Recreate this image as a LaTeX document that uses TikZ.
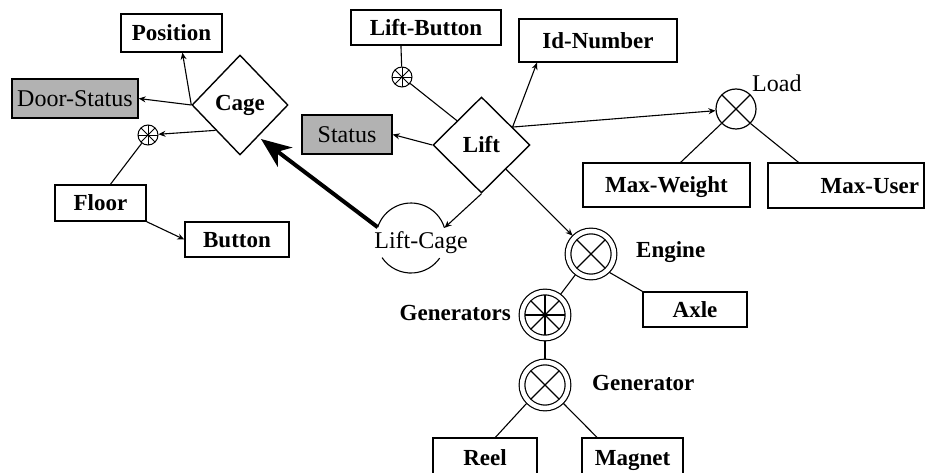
\documentclass[tikz,border=0pt]{standalone}
\usepackage{fontspec}
\setmainfont{Liberation Serif}
\usetikzlibrary{shapes.geometric,arrows.meta}
\begin{document}
\begin{tikzpicture}[x=1pt,y=-1pt,
  every node/.style={inner sep=0pt},
  bfont/.style={font=\fontsize{23}{27}\selectfont\bfseries},
  rfont/.style={font=\fontsize{24}{28}\selectfont},
  box/.style={draw, rectangle, line width=1.4pt, bfont, text height=17pt, text depth=1pt},
  shaded/.style={draw, rectangle, line width=1.4pt, fill=black!30, rfont, text height=17pt, text depth=1pt},
  rel/.style={draw, diamond, line width=1.4pt, bfont, fill=white},
  link/.style={line width=1.1pt},
  arr/.style={link, -{Stealth[length=7pt,width=6pt]}},
  big/.style={line width=4pt, -{Stealth[length=30pt,width=24pt,inset=9pt]}},
  spokes/.style={circle, draw, line width=1pt, minimum size=20pt,
    path picture={\foreach \a in {0,45,90,135}
      \draw[line width=0.9pt] (path picture bounding box.center) ++(\a:15pt) -- ++(\a+180:30pt);}},
  xcirc/.style={circle, draw, line width=1.2pt, minimum size=40pt,
    path picture={\foreach \a in {45,135}
      \draw[line width=1.1pt] (path picture bounding box.center) ++(\a:30pt) -- ++(\a+180:60pt);}},
  ring/.style={circle, draw, double, double distance=4.5pt, line width=1.2pt,
    minimum size=46pt, outer sep=3pt},
  ringx/.style={ring, path picture={\foreach \a in {45,135}
      \draw[line width=1.1pt] (path picture bounding box.center) ++(\a:30pt) -- ++(\a+180:60pt);}},
  ringstar/.style={ring, path picture={\foreach \a in {0,45,90,135}
      \draw[line width=1.1pt] (path picture bounding box.center) ++(\a:30pt) -- ++(\a+180:60pt);}},
]
\useasboundingbox (0,0) rectangle (929,473);

% ---- Cage cluster ----
\node[box, minimum width=101pt, minimum height=38pt] (Position) at (171.5,33) {Position};
\node[shaded, minimum width=126pt, minimum height=39pt] (DoorStatus) at (75,98.5) {Door-Status};
\node[rel, minimum width=96pt, minimum height=100pt] (Cage) at (240,105) {Cage};
\node[spokes] (ast1) at (148,135) {};
\node[box, minimum width=91pt, minimum height=36pt] (Floor) at (100.5,203) {Floor};
\node[box, minimum width=104pt, minimum height=35pt] (Button) at (237,239.5) {Button};

% ---- Lift cluster ----
\node[box, minimum width=150pt, minimum height=35pt] (LiftButton) at (426,27.5) {Lift-Button};
\node[box, minimum width=158pt, minimum height=43pt] (IdNumber) at (598,40.5) {Id-Number};
\node[shaded, minimum width=90pt, minimum height=39pt] (Status) at (347,134.5) {Status};
\node[rel, minimum width=97pt, minimum height=96pt] (Lift) at (481.5,145) {Lift};
\node[spokes] (ast2) at (402,77) {};

% ---- Load ----
\node[xcirc] (Load) at (736,109) {};
\node[rfont, anchor=west] (LoadLbl) at (752,83) {Load};
\node[box, minimum width=167pt, minimum height=44pt] (MaxWeight) at (666.5,185) {Max-Weight};
\node[box, minimum width=156pt, minimum height=45pt, inner xsep=5pt,
      text width=146pt, align=right] (MaxUser) at (846,185.5) {Max-User};

% ---- Lift-Cage relationship ----
\node[rfont] (LiftCage) at (421,243) {Lift-Cage};
\coordinate (LCa) at (377.7,227.2);
\coordinate (LCb) at (444.5,227.8);
\coordinate (LCd) at (382,257.6);
\draw[link] (LCa) arc[start angle=-162, end angle=-17, radius=35];
\draw[link] (LCd) arc[start angle=146, end angle=35, radius=35];

% ---- Engine tree ----
\node[ringx] (Engine) at (591,254) {};
\node[bfont, anchor=west] (EngineLbl) at (636,252) {Engine};
\node[box, minimum width=104pt, minimum height=35pt] (Axle) at (695,309.5) {Axle};
\node[ringstar] (Generators) at (545,315) {};
\node[bfont, anchor=east] (GeneratorsLbl) at (511,313) {Generators};
\node[ringx] (Generator) at (545,385) {};
\node[bfont, anchor=west] (GeneratorLbl) at (592,383) {Generator};
\node[box, minimum width=104pt, minimum height=38pt] (Reel) at (485,457) {Reel};
\node[box, minimum width=101pt, minimum height=38pt] (Magnet) at (632.5,457) {Magnet};

% ---- connectors ----
\draw[arr] (Cage.west) -- (Position.299);
\draw[arr] (Cage.west) -- (DoorStatus.east);
\draw[arr] (Cage.south west) -- (ast1);
\draw[link] (ast1) -- (Floor.62);
\draw[arr] (Floor.south east) -- (Button.west);
\draw[big] (LCa) -- (261,139);

\draw[link] (LiftButton.216) -- (ast2);
\draw[link] (ast2) -- (Lift.north west);
\draw[arr] (Lift.30) -- (IdNumber.200);
\draw[arr] (Lift.30) -- (Load);
\draw[arr] (Lift.west) -- (Status.east);
\draw[arr] (Lift.south) -- (LCb);
\draw[arr] (Lift.south east) -- (Engine);

\draw[link] (Load.south west) -- (MaxWeight.58);
\draw[link] (Load.south east) -- (MaxUser.154);

\draw[link] (Engine) -- (Generators);
\draw[link] (Engine.south east) -- (Axle.north west);
\draw[link] (Generators) -- (Generator);
\draw[link] (Generator.south west) -- (Reel.62);
\draw[link] (Generator.south east) -- (Magnet.151);
\end{tikzpicture}
\end{document}
